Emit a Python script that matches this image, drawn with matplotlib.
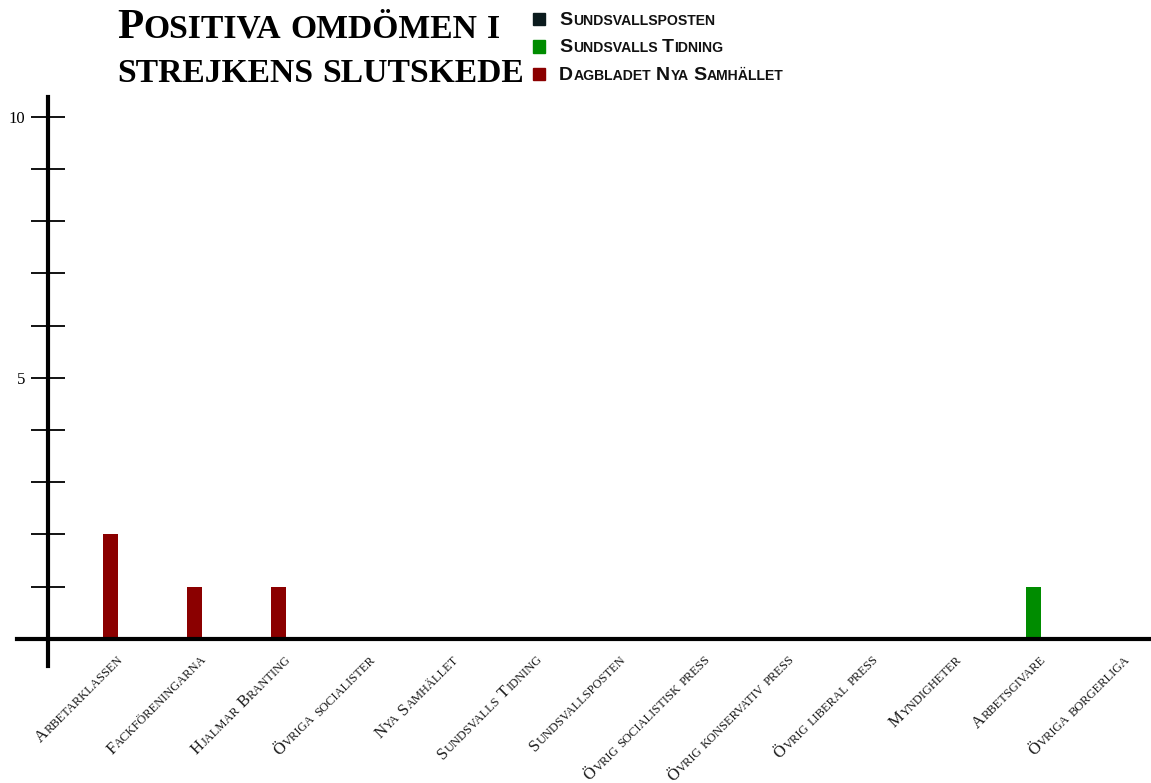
import matplotlib
matplotlib.use('Agg')
import matplotlib.pyplot as plt
from matplotlib.patches import Rectangle
from matplotlib.transforms import ScaledTranslation
import numpy as np

W, H, DPI = 1151, 783, 100

categories = ['Arbetarklassen', 'Fackföreningarna', 'Hjalmar Branting',
              'Övriga socialister', 'Nya Samhället', 'Sundsvalls Tidning',
              'Sundsvallsposten', 'Övrig socialistisk press',
              'Övrig konservativ press', 'Övrig liberal press',
              'Myndigheter', 'Arbetsgivare', 'Övriga borgerliga']
series_names = ['Sundsvallsposten', 'Sundsvalls Tidning', 'Dagbladet Nya Samhället']
sundsvallsposten = [0, 0, 0, 0, 0, 0, 0, 0, 0, 0, 0, 0, 0]
sundsvalls_tidning = [0, 0, 0, 0, 0, 0, 0, 0, 0, 0, 0, 1, 0]
nya_samhallet = [2, 1, 1, 0, 0, 0, 0, 0, 0, 0, 0, 0, 0]
colors = ['#0b1b1d', '#008c00', '#8b0000']
title_lines = ['Positiva omdömen i', 'strejkens slutskede']

SERIF = 'Liberation Serif'
SANS = 'Liberation Sans'


def text_width(fig, renderer, s, size, **kw):
    t = fig.text(0, 0, s, fontsize=size, **kw)
    w = t.get_window_extent(renderer).width
    t.remove()
    return w


def smallcaps(fig, renderer, x, y, text, size, transform, ratio=0.78,
              rotation=0, align='left', **kw):
    # split into runs: capitals full size, lower case as smaller capitals
    runs = []
    for ch in text:
        if ch == ' ':
            kind = 'space'
        elif ch.isupper():
            kind = 'big'
        else:
            kind = 'small'
        if runs and runs[-1][0] == kind:
            runs[-1][1] += ch
        else:
            runs.append([kind, ch])
    space_w = (text_width(fig, renderer, 'a a', size * ratio, **kw)
               - text_width(fig, renderer, 'aa', size * ratio, **kw))
    pieces = []
    for kind, s in runs:
        if kind == 'space':
            pieces.append((None, space_w * len(s), 0))
        else:
            sz = size if kind == 'big' else size * ratio
            w = text_width(fig, renderer, s.upper(), sz, **kw) + 0.6
            pieces.append((s.upper(), w, sz))
    total = sum(p[1] for p in pieces)
    pos = -total if align == 'right' else 0.0
    c, s_ = np.cos(np.radians(rotation)), np.sin(np.radians(rotation))
    for txt, w, sz in pieces:
        if txt is not None:
            off = ScaledTranslation(pos * c / DPI, pos * s_ / DPI, fig.dpi_scale_trans)
            fig.text(x, y, txt, fontsize=sz, transform=transform + off,
                     rotation=rotation, rotation_mode='anchor',
                     ha='left', va='baseline', **kw)
        pos += w


fig = plt.figure(figsize=(W / DPI, H / DPI), dpi=DPI)
renderer = fig.canvas.get_renderer()
ax = fig.add_axes([17 / W, (H - 666) / H, (W - 17) / W, (666 - 97) / H])

x = np.arange(len(categories))
bar_w = 0.18
for vals, col in zip([sundsvallsposten, sundsvalls_tidning, nya_samhallet], colors):
    ax.bar(x, vals, width=bar_w, color=col, linewidth=0, zorder=2)

ax.set_xlim(-1.12, 12.40)
ax.set_ylim(-0.52, 10.38)

for side in ('top', 'right'):
    ax.spines[side].set_visible(False)
ax.spines['left'].set_position(('data', -0.75))
ax.spines['bottom'].set_position(('data', 0))
ax.spines['left'].set_linewidth(3)
ax.spines['bottom'].set_linewidth(3)
ax.spines['left'].set_zorder(3)
ax.spines['bottom'].set_zorder(3)

ax.set_xticks([])
ax.set_yticks(range(0, 11))
ax.set_yticklabels(['' if v not in (5, 10) else str(v) for v in range(0, 11)],
                   fontfamily=SERIF, fontsize=12)
ax.tick_params(axis='y', direction='inout', length=25, width=1.3, pad=4)

# rotated small-caps category labels
for i, cat in enumerate(categories):
    off = ScaledTranslation(13 / DPI, -21 / DPI, fig.dpi_scale_trans)
    smallcaps(fig, renderer, i, 0, cat, 12, ax.transData + off, ratio=0.75,
              rotation=45, align='right', fontfamily=SERIF, color='#1a1a1a')

# title
inch = fig.dpi_scale_trans
smallcaps(fig, renderer, 117 / DPI, (H - 38) / DPI, title_lines[0], 31, inch,
          ratio=0.78, fontfamily=SERIF, fontweight='bold')
smallcaps(fig, renderer, 117 / DPI, (H - 82) / DPI, title_lines[1], 31, inch,
          ratio=0.78, fontfamily=SERIF, fontweight='bold')

# legend
for k, (name, col) in enumerate(zip(series_names, colors)):
    cy = 19 + 27.5 * k
    fig.add_artist(Rectangle((533 / DPI, (H - cy - 6) / DPI), 12 / DPI, 12 / DPI,
                             transform=inch, color=col))
    smallcaps(fig, renderer, 559 / DPI, (H - cy - 6) / DPI, name, 14, inch,
              ratio=0.72, fontfamily=SANS, fontweight='bold', color='#111111')

fig.savefig('out.png', dpi=DPI)
